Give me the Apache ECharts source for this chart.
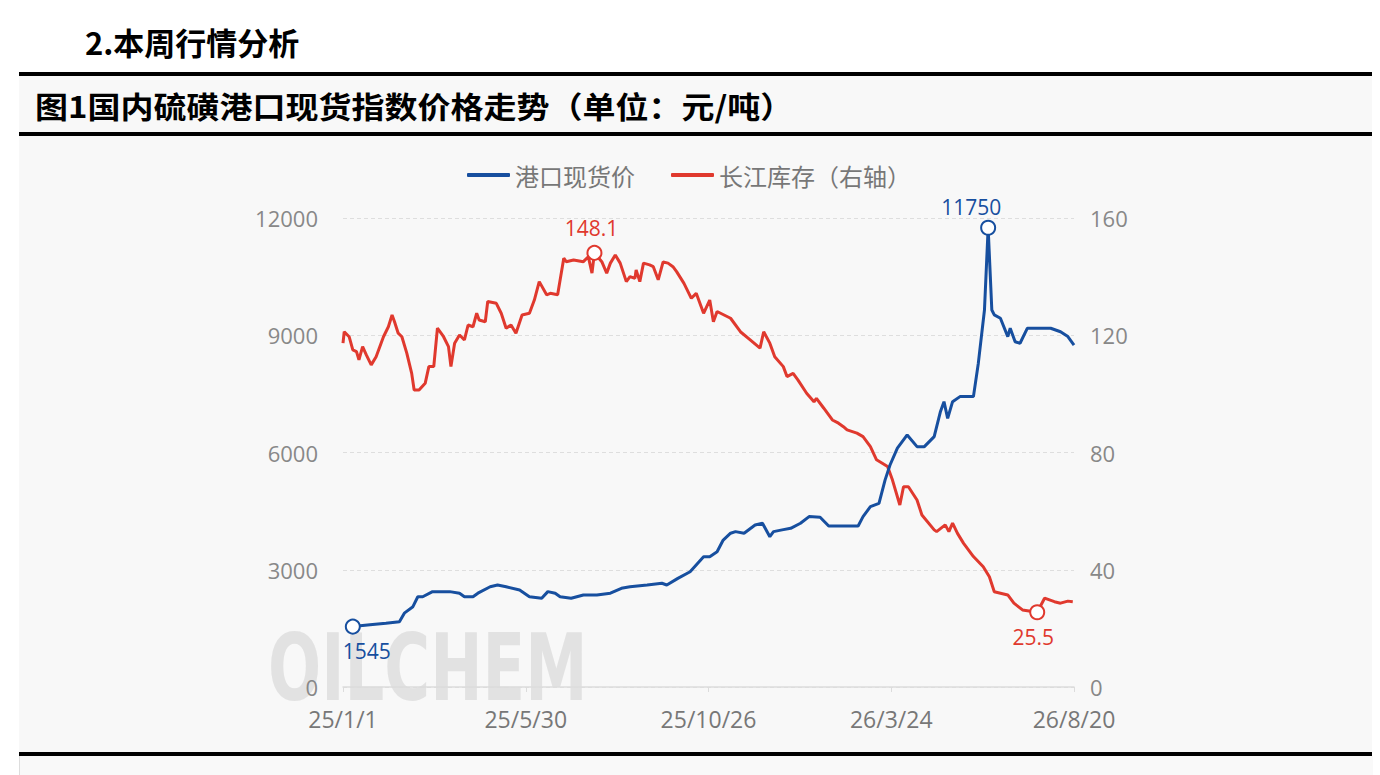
<!DOCTYPE html>
<html>
<head>
<meta charset="utf-8">
<script src="https://cdn.jsdelivr.net/npm/echarts@6/dist/echarts.min.js"></script>
<style>
html,body{margin:0;padding:0;width:1380px;height:775px;background:#fff;overflow:hidden;font-family:"Noto Sans CJK SC","Noto Sans",sans-serif;}
.abs{position:absolute;}
#h1{left:85px;top:22px;font-size:31px;font-weight:bold;color:#000;line-height:40px;}
.bar{left:19px;width:1353px;height:4px;background:#000;}
#band{left:19px;top:76px;width:1353px;height:56px;background:#f8f8f8;}
#t1{left:35px;top:84px;font-size:30px;font-weight:bold;color:#000;line-height:42px;transform:scaleX(1.1);transform-origin:0 0;white-space:nowrap;}
#area{left:19px;top:136px;width:1353px;height:616px;background:#f8f8f8;}
#foot{left:19px;top:756px;width:1353px;height:19px;background:#f9f9f9;border-left:1px solid #ddd;}
#chart{left:0;top:0;width:1380px;height:775px;}
</style>
</head>
<body>
<div class="abs" id="h1">2.本周行情分析</div>
<div class="abs bar" style="top:72px"></div>
<div class="abs" id="band"></div>
<div class="abs" id="t1">图1国内硫磺港口现货指数价格走势（单位：元/吨）</div>
<div class="abs bar" style="top:132px"></div>
<div class="abs" id="area"></div>
<div class="abs bar" style="top:752px"></div>
<div class="abs" id="foot"></div>
<div class="abs" id="chart"></div>
<script>
// x-axis: daily categories from 2025-01-01 to 2026-08-20; labels shown every 149 days
const startDate = [2025, 0, 1];
const dayCount = 597;
const tickLabels = ['25/1/1', '25/5/30', '25/10/26', '26/3/24', '26/8/20'];

// 港口现货价 (元/吨): day offset from 2025-01-01, value
const priceDay = [8,22,35,46,50,57,61,65,73,87,95,99,106,110,120,126,133,144,152,162,167,173,177,186,196,207,218,227,234,248,260,264,273,283,294,299,305,310,316,320,327,336,342,348,351,358,365,373,380,389,396,405,420,424,430,437,442,446,452,460,468,474,482,487,490,493,497,503,514,518,523,526,529,531,536,542,544,548,552,558,566,577,585,591,596];
const priceVal = [1545,1590,1630,1670,1890,2055,2310,2310,2440,2440,2400,2310,2310,2400,2565,2610,2565,2480,2310,2270,2440,2400,2310,2270,2355,2355,2400,2525,2565,2610,2655,2610,2780,2950,3335,3335,3460,3760,3935,3975,3935,4145,4190,3845,3975,4020,4060,4190,4360,4345,4120,4120,4120,4360,4615,4700,5300,5680,6110,6450,6150,6150,6405,7035,7300,6875,7300,7430,7430,8285,9645,11750,9645,9520,9435,8965,9180,8835,8795,9180,9180,9180,9090,8965,8750];

// 长江库存 (右轴): day offset from 2025-01-01, value
const stockDay = [0,1,5,8,11,13,16,19,23,27,33,37,40,42,45,48,52,56,58,62,67,70,74,77,82,86,88,91,95,99,102,106,109,111,116,118,125,129,133,137,141,146,152,156,160,166,169,175,180,182,188,196,200,203,205,211,215,218,222,226,231,234,238,239,242,245,250,253,257,261,265,269,272,278,284,288,294,299,302,305,316,324,332,340,343,348,352,359,362,367,371,378,384,386,392,399,404,408,411,419,424,430,435,444,448,454,457,461,468,472,482,484,491,494,497,501,506,514,522,527,531,542,547,554,566,572,580,585,591,595];
const stockVal = [117.3,121.2,119.5,115.0,114.4,111.6,116.1,113.3,109.9,112.7,119.5,122.9,126.9,124.6,120.7,119.5,113.9,107.0,101.3,101.3,103.6,109.3,109.3,122.4,119.5,116.1,109.3,117.3,120.1,118.4,123.5,122.9,127.5,125.2,124.6,131.5,130.9,127.5,122.4,123.5,120.7,126.9,127.5,132.0,138.3,133.8,134.3,133.8,146.3,145.1,145.7,145.1,146.8,141.2,148.1,145.1,141.2,144.6,147.4,144.6,138.3,140.0,139.4,142.3,138.3,144.6,144.0,143.4,138.9,145.0,144.6,143.4,141.7,137.7,132.6,134.3,127.5,132.0,124.6,128.1,125.8,121.2,118.4,115.6,121.2,117.3,112.7,109.3,105.9,107.0,104.7,100.2,97.3,98.5,95.1,91.1,90.0,88.8,87.7,86.6,85.4,82.0,77.5,75.2,70.6,62.1,68.3,68.3,63.8,58.7,53.6,53.0,55.3,53.0,55.9,52.4,49.0,44.5,41.0,37.6,32.5,31.4,28.6,26.3,25.5,30.3,29.1,28.6,29.3,29.1];

const BLUE = '#174f9f';
const RED = '#e0392e';

const categories = [];
for (let i = 0; i < dayCount; i++) {
  const d = new Date(startDate[0], startDate[1], startDate[2] + i);
  categories.push(String(d.getFullYear()).slice(2) + '/' + (d.getMonth() + 1) + '/' + d.getDate());
}
const pricePairs = priceDay.map((d, i) => [d, priceVal[i]]);
const stockPairs = stockDay.map((d, i) => [d, stockVal[i]]);

const numFont = '"Open Sans","Noto Sans",sans-serif';
const chart = echarts.init(document.getElementById('chart'), null, {renderer: 'svg'});
chart.setOption({
  animation: false,
  backgroundColor: 'transparent',
  legend: {
    left: 462, top: 158,
    itemWidth: 43, itemHeight: 4, itemGap: 36,
    icon: 'roundRect',
    textStyle: {color: '#777', fontSize: 24, fontFamily: '"Noto Sans CJK SC",sans-serif'},
    data: ['港口现货价', '长江库存（右轴）']
  },
  graphic: [{
    type: 'text', left: 268, top: 622, z: -10, silent: true,
    scaleX: 0.68,
    style: {
      text: 'OILCHEM',
      font: 'bold 92px "DejaVu Sans", sans-serif',
      fill: 'rgba(200,200,200,0.45)'
    }
  }],
  grid: {left: 343, right: 306, top: 218, bottom: 88},
  xAxis: {
    type: 'category', data: categories, boundaryGap: false,
    axisLine: {lineStyle: {color: '#dcdcdc', width: 1.5}},
    axisTick: {show: true, interval: 148, length: 5, lineStyle: {color: '#dcdcdc'}},
    axisLabel: {
      interval: 148, margin: 20, color: '#777', fontSize: 23, fontFamily: numFont,
      formatter: (v, idx) => tickLabels[Math.round(idx / 149)]
    },
    splitLine: {show: false}
  },
  yAxis: [{
    type: 'value', min: 0, max: 12000, interval: 3000,
    axisLine: {show: false}, axisTick: {show: false},
    axisLabel: {margin: 25, color: '#888', fontSize: 22, fontFamily: numFont, formatter: v => String(v)},
    splitLine: {lineStyle: {color: '#dedede', type: [4, 3], width: 1.2}}
  }, {
    type: 'value', min: 0, max: 160, interval: 40,
    axisLine: {show: false}, axisTick: {show: false},
    axisLabel: {margin: 16, color: '#888', fontSize: 22, fontFamily: numFont, formatter: v => String(v)},
    splitLine: {show: false}
  }],
  series: [{
    name: '港口现货价', type: 'line', yAxisIndex: 0,
    data: pricePairs, showSymbol: false, symbol: 'none',
    lineStyle: {color: BLUE, width: 3}, itemStyle: {color: BLUE},
    z: 3,
    markPoint: {
      symbol: 'circle', symbolSize: 14,
      itemStyle: {color: '#fff', borderColor: BLUE, borderWidth: 2},
      label: {color: BLUE, fontSize: 21, fontFamily: numFont},
      data: [
        {type: 'max', label: {position: 'top', distance: 2, offset: [-17, 0]}},
        {type: 'min', label: {position: 'bottom', distance: 6, offset: [14, 0]}}
      ]
    }
  }, {
    name: '长江库存（右轴）', type: 'line', yAxisIndex: 1,
    data: stockPairs, showSymbol: false, symbol: 'none',
    lineStyle: {color: RED, width: 3}, itemStyle: {color: RED},
    z: 2,
    markPoint: {
      symbol: 'circle', symbolSize: 14,
      itemStyle: {color: '#fff', borderColor: RED, borderWidth: 2},
      label: {color: RED, fontSize: 21, fontFamily: numFont},
      data: [
        {type: 'max', label: {position: 'top', distance: 6, offset: [-3, 0]}},
        {type: 'min', label: {position: 'bottom', distance: 6, offset: [-4, 0]}}
      ]
    }
  }]
});
</script>
</body>
</html>
